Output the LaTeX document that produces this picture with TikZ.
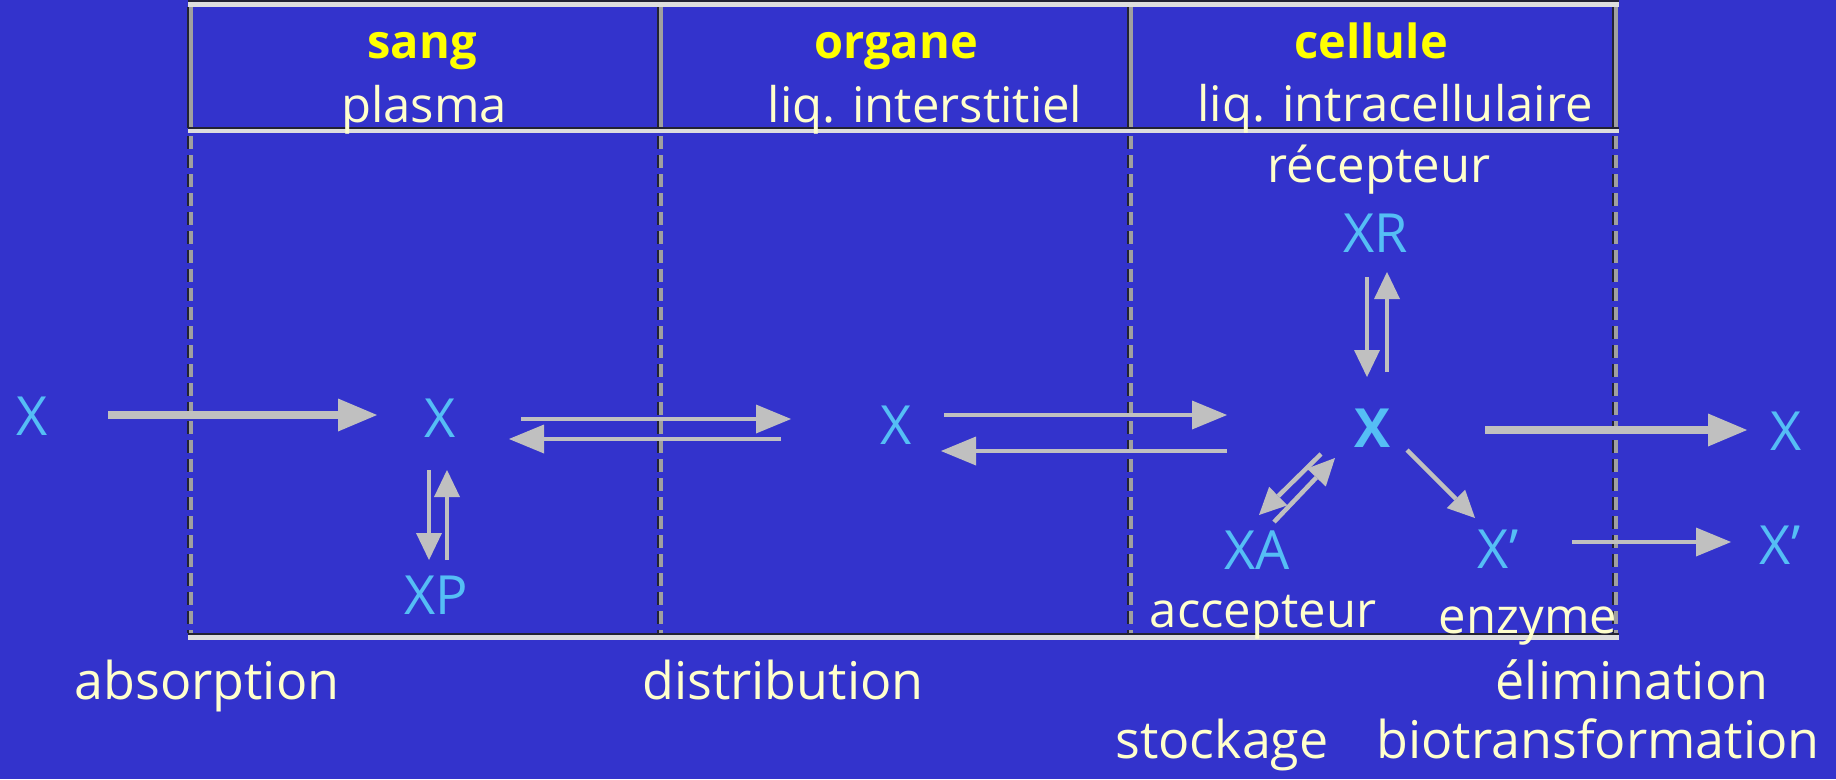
\documentclass[tikz,border=0pt]{standalone}
\usepackage{fontspec}
\setmainfont{Open Sans}
\usetikzlibrary{arrows.meta}

\definecolor{bg}{RGB}{51,51,204}
\definecolor{hdr}{RGB}{255,255,0}
\definecolor{cream}{RGB}{255,255,204}
\definecolor{molc}{RGB}{85,190,245}
\definecolor{arr}{RGB}{192,192,192}
\definecolor{rulec}{RGB}{222,222,222}
\definecolor{postc}{RGB}{160,160,160}
\definecolor{shade}{RGB}{34,34,51}

\begin{document}
\begin{tikzpicture}[x=1pt,y=-1pt,
  mol/.style={text=molc,font=\fontsize{54}{64}\selectfont,inner sep=0pt},
  molb/.style={mol,font=\fontsize{54}{64}\selectfont\bfseries},
  title/.style={text=hdr,font=\fontsize{47}{56}\selectfont\bfseries,inner sep=0pt,anchor=base},
  sub/.style={text=cream,font=\fontsize{49}{58}\selectfont,inner sep=0pt,anchor=base},
  step label/.style={text=cream,font=\fontsize{52}{62}\selectfont,inner sep=0pt,anchor=base},
  hrule/.style={draw=rulec,line width=5pt},
  hshade/.style={draw=shade,line width=2pt},
  post/.style={draw=postc,line width=4.5pt},
  postshade/.style={draw=shade,line width=1.5pt},
  dashpost/.style={post,dash pattern=on 13pt off 6pt},
  dashshade/.style={postshade,dash pattern=on 13pt off 6pt},
  bigarrow/.style={draw=arr,line width=8pt,-{Triangle[length=39pt,width=33pt,line width=0pt]}},
  midarrow/.style={draw=arr,line width=4.5pt,-{Triangle[length=35pt,width=29pt,line width=0pt]}},
  smallarrow/.style={draw=arr,line width=4.5pt,-{Triangle[length=27pt,width=26pt,line width=0pt]}},
]
\useasboundingbox (0,0) rectangle (1836,779);
\fill[bg] (0,0) rectangle (1836,779);

% frame of the three compartments
\draw[hshade] (188,1) -- (1619,1);
\draw[hrule] (188,4.5) -- (1619,4.5);
\foreach \px in {191,661,1131,1616}{
  \draw[postshade] (\px-3,7) -- (\px-3,128);
  \draw[post] (\px,7) -- (\px,128);
  \draw[dashshade] (\px-3,136) -- (\px-3,633);
  \draw[dashpost] (\px,136) -- (\px,633);
}
\draw[hshade] (188,127.5) -- (1619,127.5);
\draw[hrule,line width=4.5pt] (188,131) -- (1619,131);
\draw[hshade] (188,634) -- (1619,634);
\draw[hrule] (188,637.5) -- (1619,637.5);

% compartment headings
\node[title] (sang) at (422,58) {sang};
\node[title] (organe) at (896,58) {organe};
\node[title] (cellule) at (1371,58) {cellule};
\node[sub] (plasma) at (424,122) {plasma};
\node[sub] (interst) at (925,122) {liq. interstitiel};
\node[sub] (intra) at (1395,121) {liq. intracellulaire};

% molecular species
\node[mol] (xin) at (32,416) {X};
\node[mol] (xpl) at (440,418) {X};
\node[mol] (xp) at (436,595) {XP};
\node[mol] (xorg) at (896,425) {X};
\node[molb] (xcel) at (1372,428) {X};
\node[mol] (xr) at (1376,233) {XR};
\node[mol] (xa) at (1257,550) {XA};
\node[mol] (xpr) at (1498,549) {X'};
\node[mol] (xout) at (1786,431) {X};
\node[mol] (xpout) at (1780,545) {X'};

% binding partners
\node[sub] (recept) at (1379,182) {récepteur};
\node[sub] (accept) at (1263,627) {accepteur};
\node[sub] (enzyme) at (1528,633) {enzyme};

% stages
\node[step label] (absorption) at (207,699) {absorption};
\node[step label] (distribution) at (783,699) {distribution};
\node[step label] (elimination) at (1632,699) {élimination};
\node[step label] (stockage) at (1222,758) {stockage};
\node[step label] (biotrans) at (1598,758) {biotransformation};

% absorption
\draw[bigarrow,shorten <=76pt,shorten >=63pt] ([yshift=1pt]xin.center) -- ([yshift=3pt]xpl.center);
% plasma protein binding
\draw[smallarrow,shorten <=52pt,shorten >=35pt] ([xshift=-11pt]xpl.center) -- ([xshift=-7pt]xp.center);
\draw[smallarrow,shorten <=35pt,shorten >=52pt] ([xshift=11pt]xp.center) -- ([xshift=7pt]xpl.center);
% plasma <-> interstitial fluid
\draw[midarrow,shorten <=81pt,shorten >=105pt] ([yshift=-1pt]xpl.center) -- ([yshift=6pt]xorg.center);
\draw[midarrow,shorten <=115pt,shorten >=69pt] ([yshift=-14pt]xorg.center) -- ([yshift=-21pt]xpl.center);
% interstitial <-> intracellular fluid
\draw[midarrow,shorten <=48pt,shorten >=145pt] ([yshift=10pt]xorg.center) -- ([yshift=13pt]xcel.center);
\draw[midarrow,shorten <=145pt,shorten >=45pt] ([yshift=-23pt]xcel.center) -- ([yshift=-26pt]xorg.center);
% receptor binding
\draw[smallarrow,shorten <=44pt,shorten >=51pt] ([xshift=-9pt]xr.center) -- ([xshift=-5pt]xcel.center);
\draw[smallarrow,shorten <=56pt,shorten >=39pt] ([xshift=15pt]xcel.center) -- ([xshift=11pt]xr.center);
% storage on acceptor
\draw[smallarrow] ([xshift=-51pt,yshift=-26pt]xcel.center) -- ([xshift=2pt,yshift=35pt]xa.center);
\draw[smallarrow] ([xshift=17pt,yshift=28pt]xa.center) -- ([xshift=-37pt,yshift=-30pt]xcel.center);
% enzymatic biotransformation
\draw[smallarrow] ([xshift=35pt,yshift=-22pt]xcel.center) -- ([xshift=-23pt,yshift=31pt]xpr.center);
% elimination
\draw[bigarrow] ([xshift=113pt,yshift=-2pt]xcel.center) -- ([xshift=-39pt,yshift=1pt]xout.center);
\draw[midarrow] ([xshift=74pt,yshift=7pt]xpr.center) -- ([xshift=-49pt,yshift=3pt]xpout.center);
\end{tikzpicture}
\end{document}
